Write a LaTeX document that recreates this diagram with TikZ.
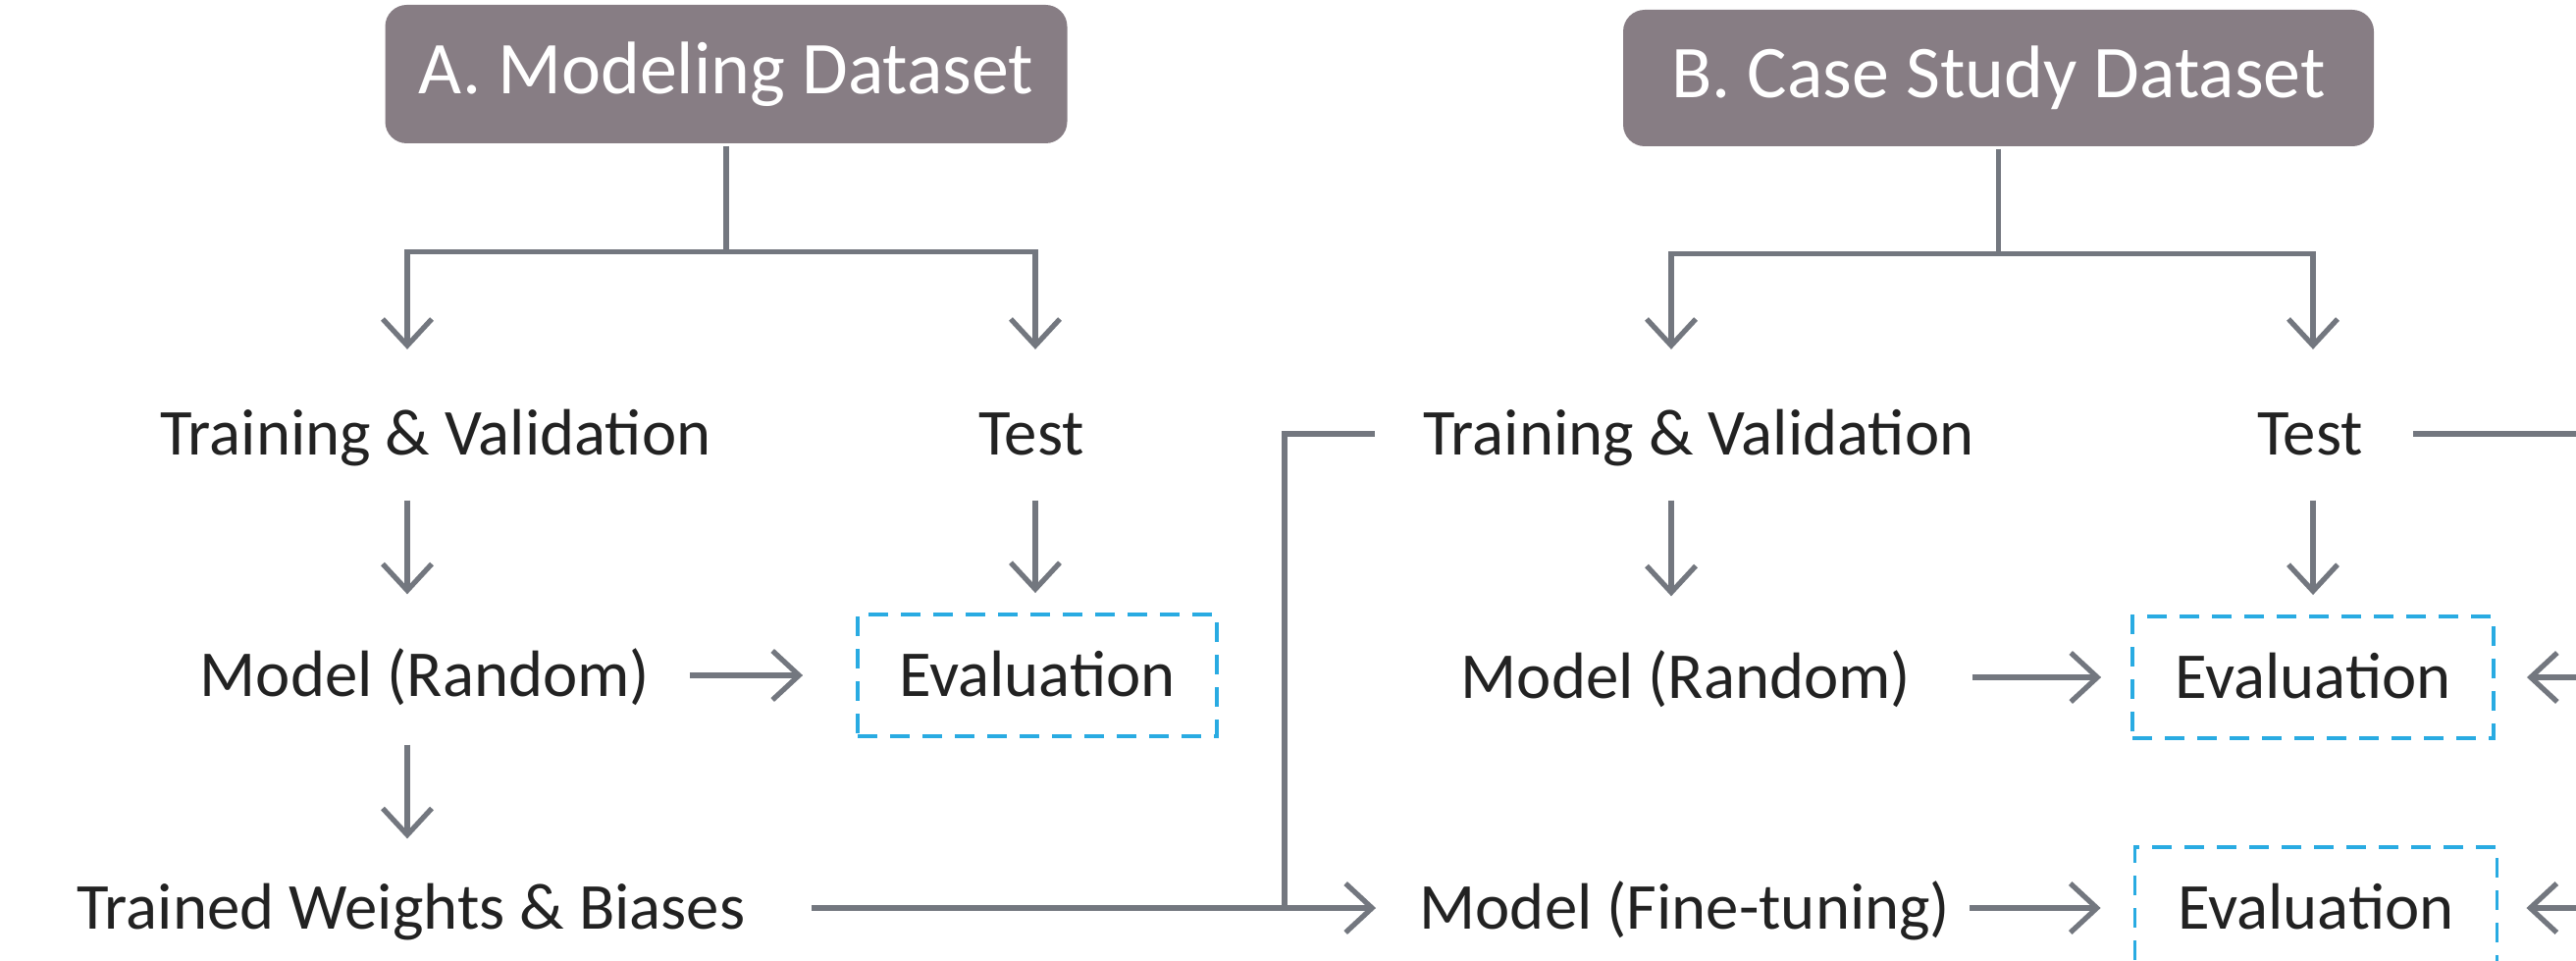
\documentclass[tikz,border=0pt]{standalone}
\usepackage{fontspec}
\setmainfont{Carlito}
\usetikzlibrary{arrows.meta}
\definecolor{boxgray}{HTML}{877D84}
\definecolor{linegray}{HTML}{73777F}
\definecolor{evalblue}{HTML}{29ABE2}
\definecolor{txtdark}{HTML}{222222}

\begin{document}
\begin{tikzpicture}[line width=1.5pt,
	title/.style={fill=boxgray,rounded corners=0.22cm,text=white,font=\fontsize{21.6}{24}\selectfont,inner sep=0pt},
	lbl/.style={text=txtdark,font=\fontsize{19}{22}\selectfont,text height=0.43cm,text depth=0pt,inner sep=0pt},
	evalbox/.style={lbl,draw=evalblue,line width=1.1pt,dash pattern=on 0.2cm off 0.13cm,minimum height=1.24cm},
	ln/.style={draw=linegray},
	arr/.style={draw=linegray,-{Straight Barb[length=0.27cm,width=0.5cm]}},
	godown/.style={arr,shorten <=0.435cm,shorten >=0.585cm}]
	\path[use as bounding box] (0,0) rectangle (26.25,-9.79);
	\clip (0,0) rectangle (26.25,-9.79);

	%TITLES
	\node[title,minimum width=6.95cm,minimum height=1.41cm] (tA) at (7.40,-0.755) {A. Modeling Dataset};
	\node[title,minimum width=7.65cm,minimum height=1.39cm] (tB) at (20.365,-0.795) {B. Case Study Dataset};

	%LABELS
	\node[lbl] (tvA) at (4.44,-4.42) {Training \& Validation};
	\node[lbl] (teA) at (10.51,-4.42) {Test};
	\node[lbl] (mrA) at (4.33,-6.88) {Model (Random)};
	\node[lbl] (twA) at (4.19,-9.25) {Trained Weights \& Biases};
	%
	\node[lbl] (tvB) at (17.31,-4.42) {Training \& Validation};
	\node[lbl] (teB) at (23.54,-4.42) {Test};
	\node[lbl] (mrB) at (17.18,-6.90) {Model (Random)};
	\node[lbl] (ftB) at (17.17,-9.25) {Model (Fine-tuning)};
	%
	\node[evalbox,minimum width=3.66cm] (evA) at (10.57,-6.88) {Evaluation};
	\node[evalbox,minimum width=3.68cm] (evB) at (23.57,-6.90) {Evaluation};
	\node[evalbox,minimum width=3.69cm] (evC) at (23.60,-9.25) {Evaluation};

	%SPLITS
	\draw[ln] (tA.south) -- ++(0,-1.08) coordinate (jA);
	\draw[arr] (jA) -| ([xshift=-0.29cm,yshift=0.62cm]tvA.north);
	\draw[arr] (jA) -| ([xshift=0.04cm,yshift=0.62cm]teA.north);
	\draw[ln] (tB.south) -- ++(0,-1.07) coordinate (jB);
	\draw[arr] (jB) -| ([xshift=-0.28cm,yshift=0.62cm]tvB.north);
	\draw[arr] (jB) -| ([xshift=0.03cm,yshift=0.62cm]teB.north);

	%DOWN ARROWS
	\draw[godown] ([xshift=-0.29cm]tvA.south) -- ([xshift=-0.29cm]tvA.south |- mrA.north);
	\draw[godown,shorten >=0.2cm] ([xshift=0.04cm]teA.south) -- ([xshift=0.04cm]teA.south |- evA.north);
	\draw[godown,shorten <=0.465cm,shorten >=0.465cm] ([xshift=-0.29cm]tvA.south |- mrA.south) -- ([xshift=-0.29cm]tvA.south |- twA.north);
	\draw[godown] ([xshift=-0.28cm]tvB.south) -- ([xshift=-0.28cm]tvB.south |- mrB.north);
	\draw[godown,shorten >=0.2cm] ([xshift=0.03cm]teB.south) -- ([xshift=0.03cm]teB.south |- evB.north);

	%ACROSS ARROWS
	\draw[arr,shorten <=0.38cm,shorten >=0.54cm] (mrA.east) -- (evA.west);
	\draw[arr,shorten <=0.60cm,shorten >=0.30cm] (mrB.east) -- (evB.west);
	\draw[arr,shorten <=0.17cm,shorten >=0.33cm] (ftB.east) -- (evC.west);
	\draw[arr,shorten <=0.65cm,shorten >=0.42cm] (twA.east) -- (ftB.west);
	\coordinate (jT) at (13.09,-9.25);
	\draw[ln] ([xshift=-0.47cm]tvB.west) -| (jT);

	%RIGHT EDGE
	\coordinate (eR) at (26.4,0);
	\draw[ln,shorten <=0.49cm] (teB.east) -- (teB.east -| eR);
	\draw[arr,shorten >=0.32cm] (evB.east -| eR) -- (evB.east);
	\draw[arr,shorten >=0.28cm] (evC.east -| eR) -- (evC.east);
\end{tikzpicture}
\end{document}
